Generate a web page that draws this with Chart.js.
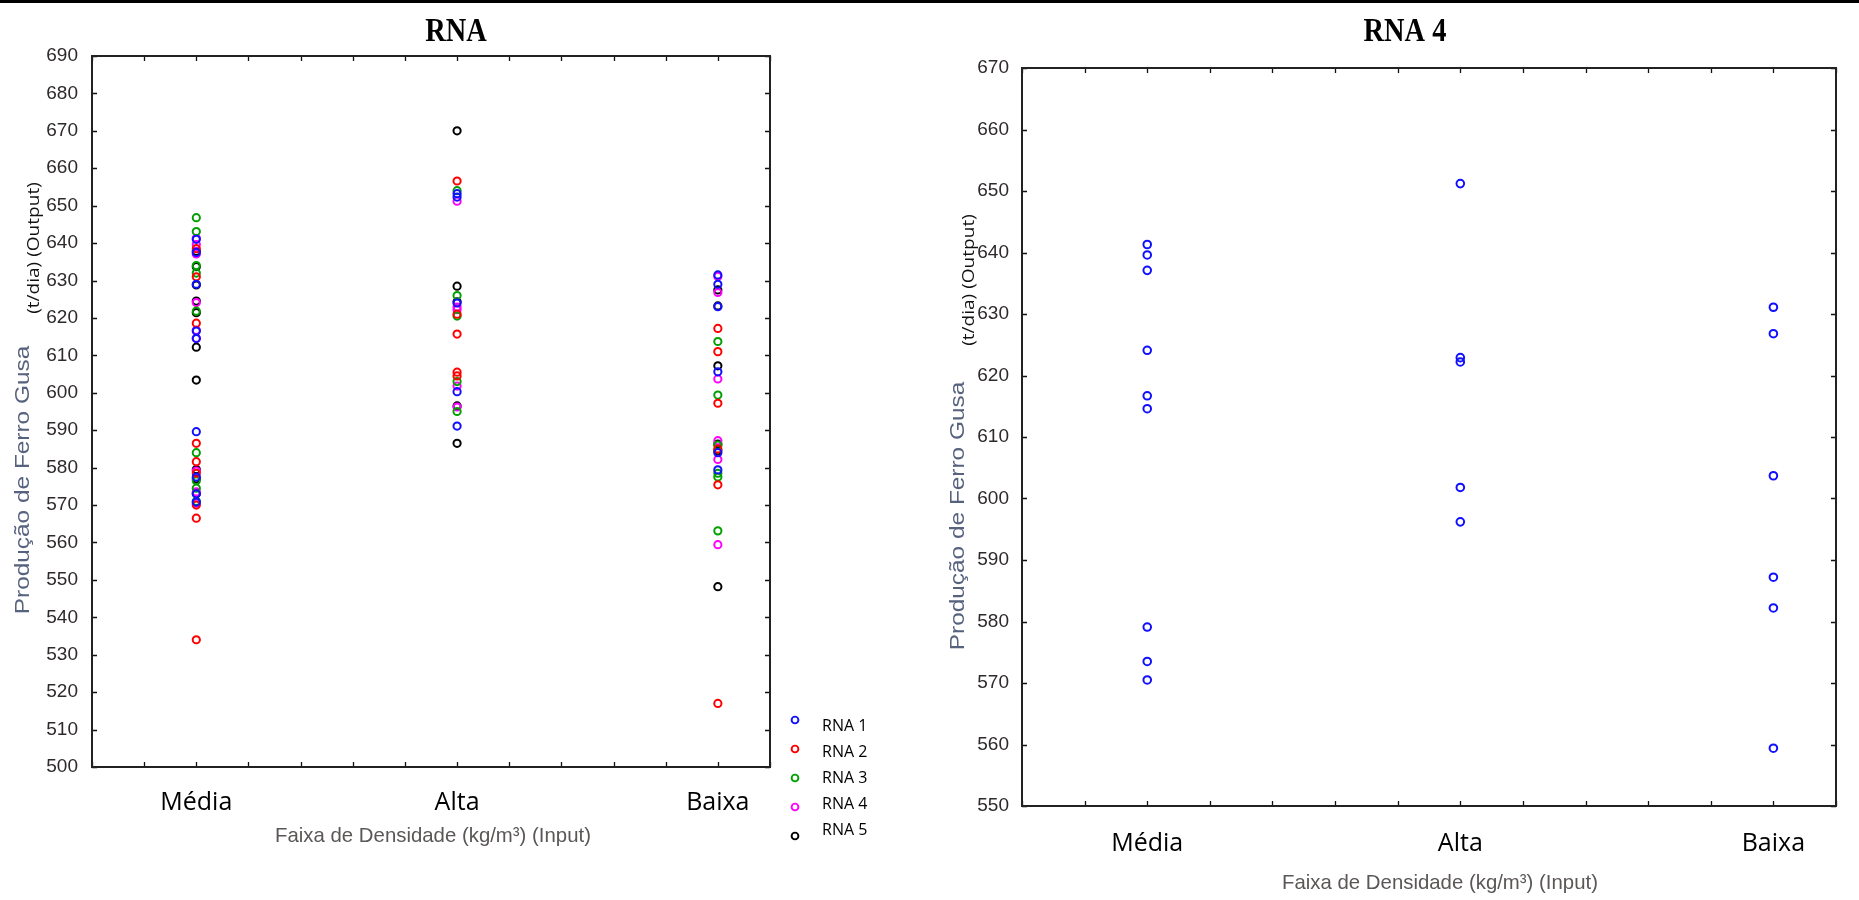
<!DOCTYPE html>
<html>
<head>
<meta charset="utf-8">
<title>RNA - Produção de Ferro Gusa por Faixa de Densidade</title>
<script src="https://cdn.jsdelivr.net/npm/chart.js"></script>
<style>
  html, body { margin: 0; padding: 0; background: #fff; }
  body { width: 1859px; height: 900px; position: relative; overflow: hidden; }
  .topline { position: absolute; left: 0; top: 0; width: 1859px; height: 3px; background: #000; }
  canvas { position: absolute; top: 0; }
  #rnaAll { left: 0; }
  #rna4 { left: 930px; }
</style>
</head>
<body>
<div class="topline"></div>
<canvas id="rnaAll" width="930" height="900"></canvas>
<canvas id="rna4" width="929" height="900"></canvas>

<script>
// categories on the x axis (placed at 1, 2, 3)
const categories = ['Média', 'Alta', 'Baixa'];
const seriesNames = ['RNA 1', 'RNA 2', 'RNA 3', 'RNA 4', 'RNA 5'];
const seriesColors = ['#1010ff', '#ff0000', '#00a000', '#ff00ff', '#000000'];

// values, per category (Média, Alta, Baixa)
const rna1Media = [641.0, 637.5, 629.0, 616.5, 614.5, 589.6, 577.5, 573.0, 570.8];
const rna1Alta  = [653.2, 652.3, 624.0, 600.3, 591.1];
const rna1Baixa = [631.5, 629.0, 623.0, 605.6, 584.0, 579.4];

const rna2Media = [638.5, 631.0, 618.6, 586.5, 581.6, 578.5, 570.0, 566.5, 534.0];
const rna2Alta  = [656.6, 621.0, 615.7, 605.5, 604.5];
const rna2Baixa = [617.2, 611.0, 597.2, 585.0, 575.4, 517.0];

const rna3Media = [646.8, 643.1, 634.0, 632.0, 621.8, 584.0, 576.5, 574.5, 571.0];
const rna3Alta  = [654.0, 626.0, 620.5, 603.0, 595.0];
const rna3Baixa = [613.7, 599.4, 586.0, 578.5, 577.5, 563.1];

const rna4Media = [641.3, 639.6, 637.1, 624.1, 616.7, 614.6, 579.1, 573.5, 570.5];
const rna4Alta  = [651.2, 622.9, 622.2, 601.8, 596.2];
const rna4Baixa = [631.1, 626.8, 603.7, 587.2, 582.2, 559.4];

const rna5Media = [637.8, 633.7, 628.8, 624.5, 621.4, 612.2, 603.4, 579.5, 577.0, 573.0];
const rna5Alta  = [670.0, 628.5, 624.3, 596.5, 586.5];
const rna5Baixa = [627.5, 623.2, 607.2, 586.3, 584.5, 548.2];

const allSeries = [
  [rna1Media, rna1Alta, rna1Baixa],
  [rna2Media, rna2Alta, rna2Baixa],
  [rna3Media, rna3Alta, rna3Baixa],
  [rna4Media, rna4Alta, rna4Baixa],
  [rna5Media, rna5Alta, rna5Baixa]
];

// y axis ranges
const leftYMin = 500, leftYMax = 690;
const rightYMin = 550, rightYMax = 670;

// turn [media, alta, baixa] lists into scatter points
function toPoints(groups) {
  const pts = [];
  groups.forEach((vals, i) => vals.forEach(v => pts.push({ x: i + 1, y: v })));
  return pts;
}

// inner ticks, frame and the extra texts that chart.js can't lay out this way
const framePlugin = {
  id: 'frame',
  beforeDatasetsDraw(chart, args, opts) {
    const { ctx, chartArea: a, scales } = chart;
    ctx.save();
    ctx.strokeStyle = '#111';
    ctx.lineWidth = 1.3;
    ctx.beginPath();
    scales.x.ticks.forEach(t => {
      const px = Math.round(scales.x.getPixelForValue(t.value)) + 0.5;
      ctx.moveTo(px, a.bottom); ctx.lineTo(px, a.bottom - opts.tick);
      ctx.moveTo(px, a.top); ctx.lineTo(px, a.top + opts.tick);
    });
    scales.y.ticks.forEach(t => {
      const py = Math.round(scales.y.getPixelForValue(t.value)) + 0.5;
      ctx.moveTo(a.left, py); ctx.lineTo(a.left + opts.tick, py);
      ctx.moveTo(a.right, py); ctx.lineTo(a.right - opts.tick, py);
    });
    ctx.stroke();
    ctx.lineWidth = opts.frameWidth;
    ctx.strokeStyle = '#222';
    ctx.strokeRect(a.left, a.top, a.right - a.left, a.bottom - a.top);
    ctx.restore();
  },
  afterDraw(chart, args, opts) {
    const ctx = chart.ctx;
    ctx.save();
    (opts.texts || []).forEach(t => {
      ctx.save();
      ctx.translate(t.x, t.y);
      if (t.rotate) ctx.rotate(-Math.PI / 2);
      ctx.scale(t.sx || 1, 1);
      ctx.font = t.font;
      ctx.fillStyle = t.color;
      ctx.textAlign = 'center';
      ctx.textBaseline = 'middle';
      ctx.fillText(t.text, 0, 0);
      ctx.restore();
    });
    const lg = opts.legend;
    if (lg) {
      chart.data.datasets.forEach((ds, i) => {
        ctx.beginPath();
        ctx.strokeStyle = ds.borderColor;
        ctx.lineWidth = 1.9;
        ctx.arc(lg.x, lg.markerY + i * lg.markerStep, 3.4, 0, Math.PI * 2);
        ctx.stroke();
        ctx.font = lg.font;
        ctx.fillStyle = '#000';
        ctx.textAlign = 'left';
        ctx.textBaseline = 'middle';
        ctx.fillText(ds.label, lg.textX, lg.textY + i * lg.textStep);
      });
    }
    ctx.restore();
  }
};

function makeChart(id, datasets, o) {
  return new Chart(document.getElementById(id), {
    type: 'scatter',
    data: { datasets },
    options: {
      responsive: false,
      animation: false,
      layout: { padding: { left: 0, top: o.top, right: o.right, bottom: 0 } },
      elements: { point: { radius: o.radius, borderWidth: 2, backgroundColor: 'rgba(0,0,0,0)' } },
      plugins: {
        legend: { display: false },
        tooltip: { enabled: false },
        frame: { tick: 5, frameWidth: 2, texts: o.texts, legend: o.legend }
      },
      scales: {
        x: {
          type: 'linear',
          min: 0.6,
          max: 3.2,
          border: { display: false },
          grid: { display: false, drawTicks: false },
          afterBuildTicks: s => {
            const ticks = [];
            for (let k = 0; k <= 13; k++) ticks.push({ value: +(0.6 + 0.2 * k).toFixed(1) });
            s.ticks = ticks;
          },
          ticks: {
            autoSkip: false,
            maxRotation: 0,
            padding: o.xPad,
            color: '#000',
            font: { family: '"Open Sans", sans-serif', size: 25 },
            callback: v => {
              const r = Math.round(v);
              return Math.abs(v - r) < 1e-6 && r >= 1 && r <= 3 ? categories[r - 1] : '';
            }
          },
          afterFit: s => { s.height = o.bottom; }
        },
        y: {
          min: o.yMin,
          max: o.yMax,
          border: { display: false },
          grid: { display: false, drawTicks: false },
          ticks: {
            stepSize: 10,
            padding: o.yPad,
            color: '#2e2a2a',
            font: { family: '"Liberation Sans", Arial, sans-serif', size: 19 }
          },
          afterFit: s => { s.width = 92; }
        }
      }
    },
    plugins: [framePlugin]
  });
}

const leftDatasets = allSeries.map((groups, i) => ({
  label: seriesNames[i],
  data: toPoints(groups),
  borderColor: seriesColors[i],
  pointBorderColor: seriesColors[i]
}));

const yTitleFont = '20px "Liberation Sans", Arial, sans-serif';
const unitFont = '17px "Open Sans", sans-serif';
const xTitleFont = '21px "Liberation Sans", Arial, sans-serif';
const titleFont = 'bold 33px "Liberation Serif", serif';

makeChart('rnaAll', leftDatasets, {
  top: 56, right: 160, bottom: 133, yMin: leftYMin, yMax: leftYMax,
  xPad: 21, yPad: 14, radius: 3.6,
  texts: [
    { text: 'RNA', x: 456, y: 32, font: titleFont, color: '#000', sx: 0.86 },
    { text: 'Produção de Ferro Gusa', x: 23, y: 480, rotate: true, font: yTitleFont, color: '#56627e', sx: 1.22 },
    { text: '(t/dia) (Output)', x: 34, y: 248, rotate: true, font: unitFont, color: '#111', sx: 1.12 },
    { text: 'Faixa de Densidade (kg/m³) (Input)', x: 433, y: 836, font: xTitleFont, color: '#5c5757', sx: 0.97 }
  ],
  legend: { x: 795, markerY: 720, markerStep: 29, textX: 822, textY: 726, textStep: 26, font: '16px "Open Sans", sans-serif' }
});

makeChart('rna4', [{
  label: 'RNA 4',
  data: toPoints([rna4Media, rna4Alta, rna4Baixa]),
  borderColor: '#1010ff',
  pointBorderColor: '#1010ff'
}], {
  top: 68, right: 14, bottom: 94, yMin: rightYMin, yMax: rightYMax,
  xPad: 23, yPad: 13, radius: 3.8,
  texts: [
    { text: 'RNA 4', x: 475, y: 32, font: titleFont, color: '#000', sx: 0.86 },
    { text: 'Produção de Ferro Gusa', x: 28, y: 516, rotate: true, font: yTitleFont, color: '#56627e', sx: 1.22 },
    { text: '(t/dia) (Output)', x: 39, y: 280, rotate: true, font: unitFont, color: '#111', sx: 1.12 },
    { text: 'Faixa de Densidade (kg/m³) (Input)', x: 510, y: 883, font: xTitleFont, color: '#5c5757', sx: 0.97 }
  ]
});
</script>
</body>
</html>
